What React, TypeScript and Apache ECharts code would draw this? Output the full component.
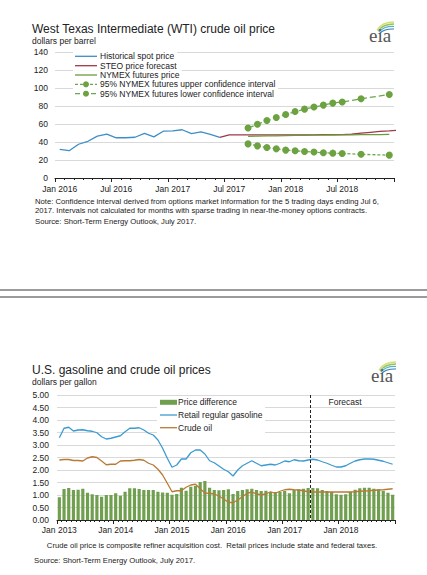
import React, { useEffect, useRef } from "react";
import * as echarts from "echarts";

const MONTHS = ["Jan", "Feb", "Mar", "Apr", "May", "Jun", "Jul", "Aug", "Sep", "Oct", "Nov", "Dec"];
const WTI_YEARS = [2016, 2017, 2018];
const GAS_YEARS = [2013, 2014, 2015, 2016, 2017, 2018];

// WTI chart ($/barrel), monthly
const HIST_SPOT = [31.7, 30.3, 37.5, 40.8, 46.5, 48.7, 44.7, 44.7, 45.3, 49.5, 45.7, 52.0, 52.4, 53.6, 49.4, 51.3, 48.6, 45.2]; // Jan 2016 - Jun 2017
const STEO_START = 17; // Jun 2017
const STEO_FORECAST = [45.2, 48.0, 48.0, 48.0, 48.0, 48.0, 48.0, 48.0, 48.0, 48.0, 48.0, 48.1, 48.2, 48.3, 48.6, 49.8, 50.8, 51.8, 52.4, 53.2];
const NYMEX_START = 20; // Sep 2017
const NYMEX_FUTURES = [46.3, 46.5, 46.7, 46.9, 47.1, 47.3, 47.4, 47.6, 47.7, 47.8, 47.9, 48.0, 48.1, 48.2, 48.3, 48.4];
const CI_UPPER = [55.6, 59.7, 63.8, 67.2, 70.5, 73.8, 76.5, 78.8, 81.0, 83.2, 84.5, null, 88.0, null, null, 92.8];
const CI_LOWER = [37.9, 35.7, 33.9, 32.4, 31.0, 30.2, 29.5, 28.8, 28.0, 27.6, 27.3, null, 26.3, null, null, 25.4];

// Gasoline chart ($/gallon), monthly Jan 2013 - Dec 2018
const GASOLINE = [
  3.29, 3.67, 3.71, 3.56, 3.6, 3.61, 3.57, 3.55, 3.49, 3.33, 3.24, 3.27,
  3.32, 3.37, 3.53, 3.67, 3.67, 3.69, 3.6, 3.47, 3.4, 3.2, 2.87, 2.47,
  2.11, 2.2, 2.44, 2.44, 2.69, 2.8, 2.8, 2.64, 2.37, 2.29, 2.16, 2.03,
  1.93, 1.76, 2.0, 2.17, 2.27, 2.37, 2.27, 2.17, 2.2, 2.23, 2.2, 2.27,
  2.36, 2.33, 2.41, 2.37, 2.36, 2.4, 2.43, 2.4, 2.33, 2.27, 2.19, 2.12,
  2.12, 2.17, 2.27, 2.36, 2.41, 2.44, 2.44, 2.43, 2.39, 2.35, 2.29, 2.23,
];
const CRUDE = [
  2.4, 2.42, 2.42, 2.38, 2.38, 2.36, 2.48, 2.53, 2.5, 2.36, 2.21, 2.23,
  2.23, 2.36, 2.37, 2.37, 2.39, 2.42, 2.39, 2.27, 2.2, 2.03, 1.8, 1.47,
  1.13, 1.17, 1.17, 1.31, 1.4, 1.43, 1.25, 1.08, 1.07, 1.04, 0.96, 0.84,
  0.71, 0.69, 0.8, 0.93, 1.07, 1.12, 1.04, 1.01, 1.04, 1.13, 1.07, 1.15,
  1.21, 1.23, 1.21, 1.2, 1.17, 1.13, 1.12, 1.12, 1.12, 1.12, 1.12, 1.12,
  1.12, 1.12, 1.12, 1.13, 1.15, 1.16, 1.17, 1.19, 1.2, 1.21, 1.23, 1.25,
];
const PRICE_DIFF = [
  0.91, 1.24, 1.28, 1.2, 1.21, 1.25, 1.09, 1.03, 1.0, 0.93, 1.0, 1.0,
  1.07, 0.97, 1.13, 1.27, 1.27, 1.24, 1.2, 1.2, 1.2, 1.13, 1.1, 1.09,
  1.01, 1.04, 1.29, 1.17, 1.33, 1.36, 1.52, 1.56, 1.29, 1.2, 1.19, 1.2,
  1.23, 1.04, 1.16, 1.2, 1.23, 1.25, 1.2, 1.16, 1.17, 1.12, 1.12, 1.12,
  1.16, 1.07, 1.2, 1.23, 1.25, 1.28, 1.28, 1.27, 1.2, 1.16, 1.12, 1.03,
  1.01, 1.03, 1.13, 1.21, 1.27, 1.29, 1.29, 1.25, 1.23, 1.16, 1.09, 1.01,
];
const FORECAST_START = 54; // Jul 2017

const FONT = "'Liberation Sans', Arial, Helvetica, sans-serif";
const TXT = "#222";

const makeCats = (years: number[]) => years.flatMap((y) => MONTHS.map((m) => `${m} ${y}`));
const pad = (start: number, arr: (number | null)[], total: number) => {
  const out: (number | null)[] = new Array(total).fill(null);
  arr.forEach((v, i) => (out[start + i] = v));
  return out;
};

const G1 = { left: 55, top: 52, width: 339, height: 126 };
const G2 = { left: 57, top: 395, width: 338, height: 125 };

const text = (t: string, x: number, y: number, size: number, extra: any = {}) => ({
  type: "text",
  x,
  y,
  z: 20,
  style: { text: t, fontSize: size, fontFamily: FONT, fill: TXT, verticalAlign: "middle", align: "left", ...extra },
});
const hline = (x1: number, x2: number, y: number, stroke: string, lineWidth = 1.3, lineDash?: number[]) => ({
  type: "line",
  z: 20,
  shape: { x1, y1: y, x2, y2: y },
  style: { stroke, lineWidth, lineDash },
});
const whiteRect = (x: number, y: number, w: number, h: number) => ({
  type: "rect",
  z: 10,
  shape: { x, y, width: w, height: h },
  style: { fill: "#fff" },
});
const logo = (x: number, y: number) => ({
  type: "group",
  x,
  y,
  z: 20,
  children: [
    { type: "bezierCurve", shape: { x1: 7, y1: 9, cpx1: 12, cpy1: 1, x2: 24, y2: 1 }, style: { stroke: "#d6de7a", lineWidth: 1.3, fill: null } },
    { type: "bezierCurve", shape: { x1: 8, y1: 10, cpx1: 13, cpy1: 3, x2: 24, y2: 3 }, style: { stroke: "#93c45a", lineWidth: 1.3, fill: null } },
    { type: "bezierCurve", shape: { x1: 9, y1: 11, cpx1: 14, cpy1: 5, x2: 24, y2: 5.5 }, style: { stroke: "#5aaed0", lineWidth: 1.2, fill: null } },
    { type: "bezierCurve", shape: { x1: 10, y1: 12, cpx1: 15, cpy1: 7.5, x2: 24, y2: 8 }, style: { stroke: "#2f7fb5", lineWidth: 1.1, fill: null } },
    {
      type: "text",
      x: -1,
      y: 14.5,
      style: { text: "eia", fontSize: 19, fontFamily: "'Liberation Serif', 'Times New Roman', serif", fill: "#555", verticalAlign: "middle" },
    },
  ],
});

export default function App() {
  const ref = useRef<HTMLDivElement>(null);
  useEffect(() => {
    if (!ref.current) return;
    const chart = echarts.init(ref.current, undefined, { renderer: "svg" });
    const wtiCats = makeCats(WTI_YEARS);
    const gasCats = makeCats(GAS_YEARS);
    const axisLabel = { fontSize: 8.5, fontFamily: FONT, color: TXT };
    const forecastX = G2.left + (G2.width * FORECAST_START) / gasCats.length;

    const legendTop = [
      { label: "Historical spot price", color: "#3d8ec9", y: 56.3, w: 104 },
      { label: "STEO price forecast", color: "#9b3a48", y: 65.7, w: 107 },
      { label: "NYMEX futures price", color: "#6f9a3c", y: 75, w: 109 },
    ];
    const graphic: any[] = [
      text("West Texas Intermediate (WTI) crude oil price", 32, 29, 12),
      text("dollars per barrel", 32, 40.5, 8.5),
      logo(370, 21),
      ...legendTop.map((l) => whiteRect(73, l.y - 4.7, l.w, 9.4)),
      whiteRect(73, 84.3 - 4.7, 205, 9.4),
      whiteRect(73, 93.7 - 4.7, 205, 9.4),
      ...legendTop.flatMap((l) => [hline(75, 97, l.y, l.color), text(l.label, 100, l.y, 8.5)]),
      hline(75, 97, 84.3, "#6aa84f", 1.3, [3, 2]),
      { type: "circle", z: 21, shape: { cx: 86, cy: 84.3, r: 3 }, style: { fill: "#6ca23f" } },
      text("95% NYMEX futures upper confidence interval", 100, 84.3, 8.5),
      hline(75, 97, 93.7, "#6aa84f", 1.3, [5, 3]),
      { type: "circle", z: 21, shape: { cx: 86, cy: 93.7, r: 3 }, style: { fill: "#6ca23f" } },
      text("95% NYMEX futures lower confidence interval", 100, 93.7, 8.5),
      text("Note: Confidence interval derived from options market information for the 5 trading days ending Jul 6,", 35, 201.3, 7.7),
      text("2017. Intervals not calculated for months with sparse trading in near-the-money options contracts.", 35, 210.3, 7.7),
      text("Source: Short-Term Energy Outlook, July 2017.", 35, 221, 7.7),
      hline(0, 427, 290, "#7a7a7a", 1.6),
      hline(0, 427, 297, "#7a7a7a", 1.6),
      text("U.S. gasoline and crude oil prices", 32, 370, 12),
      text("dollars per gallon", 32, 381.5, 8.5),
      logo(372, 361),
      whiteRect(157, 397, 108, 36),
      { type: "rect", z: 21, shape: { x: 160, y: 399.8, width: 17, height: 5 }, style: { fill: "#70a04f" } },
      text("Price difference", 178, 402.3, 8.5),
      hline(160, 177, 415, "#3d9bd1"),
      text("Retail regular gasoline", 178, 415, 8.5),
      hline(160, 177, 427.7, "#b97a36"),
      text("Crude oil", 178, 427.7, 8.5),
      text("Forecast", 345, 402.3, 8.5, { align: "center" }),
      {
        type: "line",
        z: 20,
        shape: { x1: forecastX, y1: G2.top, x2: forecastX, y2: G2.top + G2.height },
        style: { stroke: "#222", lineWidth: 1, lineDash: [3, 2] },
      },
      text("Crude oil price is composite refiner acquisition cost.  Retail prices include state and federal taxes.", 212, 545, 7.7, { align: "center" }),
      text("Source: Short-Term Energy Outlook, July 2017.", 34, 560, 7.7),
    ];

    const baseX = (gridIndex: number, data: string[], tickInterval: number) => [
      {
        type: "category",
        gridIndex,
        data,
        position: "bottom",
        boundaryGap: true,
        axisLine: { show: true, lineStyle: { color: "#222", width: 1 } },
        axisTick: { show: true, interval: 0, length: 2, lineStyle: { color: "#222" } },
        axisLabel: { show: false },
        splitLine: { show: false },
      },
      {
        type: "category",
        gridIndex,
        data,
        position: "bottom",
        boundaryGap: true,
        axisLine: { show: false },
        axisTick: { show: true, interval: tickInterval, length: 4, lineStyle: { color: "#222" } },
        axisLabel: { ...axisLabel, interval: tickInterval, margin: gridIndex === 0 ? 6 : 5 },
        splitLine: { show: false },
      },
    ];

    const ciLine = (data: (number | null)[], dash: number[]) => ({
      type: "line",
      xAxisIndex: 0,
      yAxisIndex: 0,
      data: pad(NYMEX_START, data, 36),
      connectNulls: true,
      symbol: "circle",
      symbolSize: 7,
      showSymbol: true,
      showAllSymbol: true,
      itemStyle: { color: "#6ca23f", opacity: 1 },
      lineStyle: { color: "#6aa84f", width: 1.3, type: dash },
      z: 4,
    });

    chart.setOption({
      animation: false,
      grid: [
        { ...G1, containLabel: false },
        { ...G2, containLabel: false },
      ],
      xAxis: [...baseX(0, wtiCats, 5), ...baseX(1, gasCats, 11)],
      yAxis: [
        {
          type: "value",
          gridIndex: 0,
          min: 0,
          max: 140,
          interval: 20,
          axisLine: { show: false },
          axisTick: { show: false },
          axisLabel: { ...axisLabel, margin: 7 },
          splitLine: { lineStyle: { color: "#d9d9d9", width: 1 } },
        },
        {
          type: "value",
          gridIndex: 1,
          min: 0,
          max: 5,
          interval: 0.5,
          axisLine: { show: false },
          axisTick: { show: false },
          axisLabel: { ...axisLabel, margin: 8, formatter: (v: number) => v.toFixed(2) },
          splitLine: { lineStyle: { color: "#d9d9d9", width: 1 } },
        },
      ],
      series: [
        {
          name: "Historical spot price",
          type: "line",
          xAxisIndex: 0,
          yAxisIndex: 0,
          data: pad(0, HIST_SPOT, 36),
          symbol: "none",
          lineStyle: { color: "#3d8ec9", width: 1.3 },
          z: 3,
        },
        {
          name: "STEO price forecast",
          type: "line",
          xAxisIndex: 0,
          yAxisIndex: 0,
          data: pad(STEO_START, STEO_FORECAST, 36),
          symbol: "none",
          lineStyle: { color: "#9b3a48", width: 1.3 },
          z: 3,
        },
        {
          name: "NYMEX futures price",
          type: "line",
          xAxisIndex: 0,
          yAxisIndex: 0,
          data: pad(NYMEX_START, NYMEX_FUTURES, 36),
          symbol: "none",
          lineStyle: { color: "#6f9a3c", width: 1.3 },
          z: 3,
        },
        ciLine(CI_UPPER, [6, 3]),
        ciLine(CI_LOWER, [3, 2]),
        {
          name: "Price difference",
          type: "bar",
          xAxisIndex: 2,
          yAxisIndex: 1,
          data: PRICE_DIFF,
          barWidth: "68%",
          itemStyle: { color: "#70a04f" },
          z: 2,
        },
        {
          name: "Retail regular gasoline",
          type: "line",
          xAxisIndex: 2,
          yAxisIndex: 1,
          data: GASOLINE,
          symbol: "none",
          lineStyle: { color: "#3d9bd1", width: 1.3 },
          z: 3,
        },
        {
          name: "Crude oil",
          type: "line",
          xAxisIndex: 2,
          yAxisIndex: 1,
          data: CRUDE,
          symbol: "none",
          lineStyle: { color: "#b97a36", width: 1.3 },
          z: 3,
        },
      ],
      graphic,
    });
    return () => chart.dispose();
  }, []);

  return (
    <div
      ref={ref}
      style={{ position: "absolute", left: 0, top: 0, width: 427, height: 575, background: "#fff", overflow: "hidden" }}
    />
  );
}
